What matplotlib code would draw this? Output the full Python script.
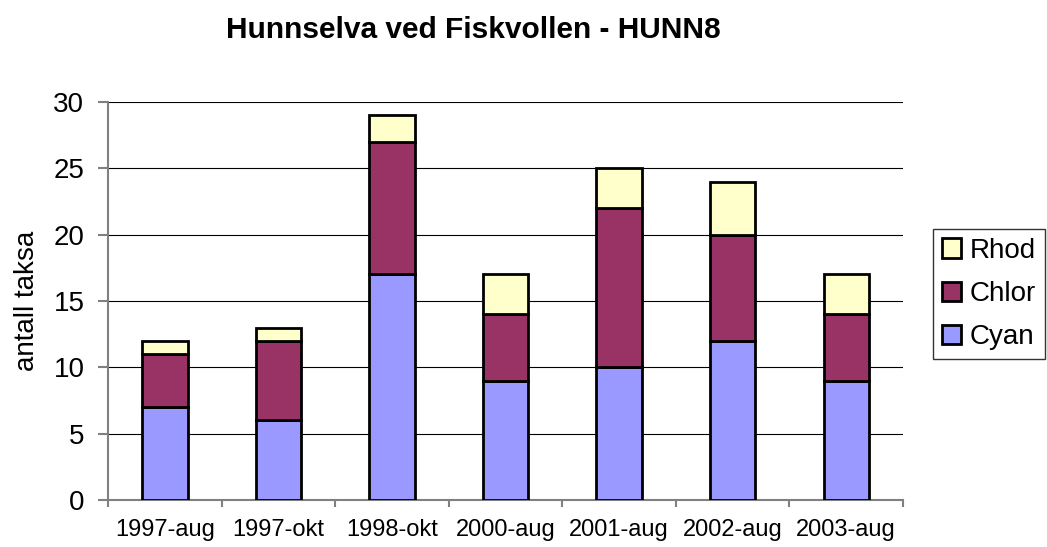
import matplotlib
matplotlib.use('Agg')
import matplotlib.pyplot as plt
import numpy as np

plt.rcParams['font.family'] = ['Liberation Sans', 'DejaVu Sans']

categories = ['1997-aug', '1997-okt', '1998-okt', '2000-aug', '2001-aug', '2002-aug', '2003-aug']
cyan = [7, 6, 17, 9, 10, 12, 9]
chlor = [4, 6, 10, 5, 12, 8, 5]
rhod = [1, 1, 2, 3, 3, 4, 3]

fig = plt.figure(figsize=(10.47, 5.47), dpi=100)
# plot area: x 108..903 px, y 102..500 px
ax = fig.add_axes([108 / 1047, 47 / 547, 795 / 1047, 398 / 547])

x = np.arange(len(categories))
w = 0.4
kw = dict(width=w, edgecolor='black', linewidth=2, zorder=3)
b1 = ax.bar(x, cyan, color='#9999FF', label='Cyan', **kw)
b2 = ax.bar(x, chlor, bottom=cyan, color='#993366', label='Chlor', **kw)
bottom2 = np.array(cyan) + np.array(chlor)
b3 = ax.bar(x, rhod, bottom=bottom2, color='#FFFFCC', label='Rhod', **kw)

ax.set_xlim(-0.5, len(categories) - 0.5)
ax.set_ylim(0, 30)
ax.set_yticks(range(0, 31, 5))
ax.tick_params(axis='y', labelsize=20, length=7, width=1.5, color='#808080', pad=10)
ax.set_xticks(x)
ax.set_xticklabels(categories, fontsize=17)
ax.tick_params(axis='x', which='major', length=0, pad=14)
ax.set_xticks(np.arange(-0.5, len(categories), 1), minor=True)
ax.tick_params(axis='x', which='minor', length=5, width=1.5, color='#808080')

ax.yaxis.grid(True, color='black', linewidth=0.8, zorder=0)
ax.set_axisbelow(True)
for s in ['top', 'right']:
    ax.spines[s].set_visible(False)
for s in ['left', 'bottom']:
    ax.spines[s].set_color('#808080')
    ax.spines[s].set_linewidth(1.5)

ax.set_ylabel('antall taksa', fontsize=20, labelpad=10)
fig.text(473.5 / 1047, 1 - 38 / 547, 'Hunnselva ved Fiskvollen - HUNN8', ha='center',
         va='baseline', fontsize=21.5, fontweight='bold')

leg = ax.legend(handles=[b3, b2, b1], loc='upper left',
                bbox_to_anchor=(933 / 1047, 1 - 229 / 547), bbox_transform=fig.transFigure,
                borderaxespad=0, fontsize=20, frameon=True, fancybox=False,
                handlelength=0.7, handleheight=0.7, handletextpad=0.3,
                labelspacing=0.62, borderpad=0.32)
leg.get_frame().set_edgecolor('black')
leg.get_frame().set_linewidth(1)

fig.savefig('out.png', dpi=100)
